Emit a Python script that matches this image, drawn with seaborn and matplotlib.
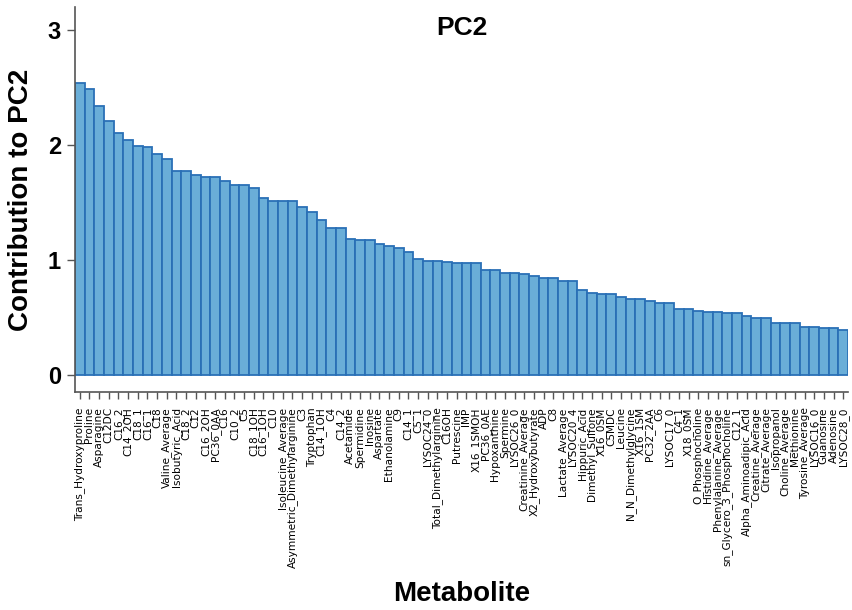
import matplotlib
matplotlib.use("Agg")
import matplotlib.pyplot as plt
import seaborn as sns
import pandas as pd

metabolites = [
    "Trans_Hydroxyproline", "Proline", "Asparagine", "C12DC", "C16_2", "C14_2OH",
    "C18_1", "C16_1", "C18", "Valine_Average", "Isobutyric_Acid", "C18_2", "C12",
    "C16_2OH", "PC36_0AA", "C16", "C10_2", "C5", "C18_1OH", "C16_1OH", "C10",
    "Isoleucine_Average", "Asymmetric_Dimethylarginine", "C3", "Tryptophan",
    "C14_1OH", "C4", "C14_2", "Acetamide", "Spermidine", "Inosine", "Aspartate",
    "Ethanolamine", "C9", "C14_1", "C5_1", "LYSOC24_0", "Total_Dimethylarginine",
    "C16OH", "Putrescine", "IMP", "X16_1SMOH", "PC36_0AE", "Hypoxanthine",
    "Spermine", "LYSOC26_0", "Creatinine_Average", "X2_Hydroxybutyrate", "ADP",
    "C8", "Lactate_Average", "LYSOC20_4", "Hippuric_Acid", "Dimethyl_Sulfone",
    "X16_0SM", "C5MDC", "Leucine", "N_N_Dimethylglycine", "X16_1SM", "PC32_2AA",
    "C6", "LYSOC17_0", "C4_1", "X18_0SM", "O_Phosphocholine", "Histidine_Average",
    "Phenylalanine_Average", "sn_Glycero_3_Phosphocholine", "C12_1",
    "Alpha_Aminoadipic_Acid", "Creatine_Average", "Citrate_Average", "Isopropanol",
    "Choline_Average", "Methionine", "Tyrosine_Average", "LYSOC16_0", "Guanosine",
    "Adenosine", "LYSOC28_0",
]

contribution = [
    2.54, 2.49, 2.34, 2.21, 2.10, 2.04, 1.99, 1.98, 1.92, 1.88,
    1.77, 1.77, 1.74, 1.72, 1.72, 1.69, 1.655, 1.65, 1.63, 1.54,
    1.515, 1.515, 1.51, 1.46, 1.415, 1.35, 1.28, 1.28, 1.185, 1.17,
    1.17, 1.135, 1.125, 1.105, 1.07, 1.005, 0.995, 0.995, 0.985, 0.97,
    0.97, 0.97, 0.91, 0.91, 0.89, 0.89, 0.875, 0.865, 0.845, 0.845,
    0.815, 0.815, 0.74, 0.715, 0.705, 0.705, 0.68, 0.665, 0.665, 0.645,
    0.625, 0.625, 0.575, 0.575, 0.56, 0.545, 0.545, 0.535, 0.535, 0.515,
    0.495, 0.495, 0.45, 0.45, 0.45, 0.415, 0.415, 0.405, 0.405, 0.395,
]

yticks = [0, 1, 2, 3]

df = pd.DataFrame({"Metabolite": metabolites, "Contribution": contribution})

sns.set_style("white")
plt.rcParams["font.family"] = ["Liberation Sans", "DejaVu Sans"]
plt.rcParams["text.color"] = "black"
plt.rcParams["axes.labelcolor"] = "black"
plt.rcParams["xtick.labelcolor"] = "black"
plt.rcParams["ytick.labelcolor"] = "black"

fig = plt.figure(figsize=(8.53, 6.10), dpi=100)
ax = fig.add_axes([75 / 853, 1 - 392 / 610, (848 - 75) / 853, (392 - 7) / 610])

sns.barplot(data=df, x="Metabolite", y="Contribution", order=metabolites,
            color="#6aaed8", saturation=1, width=1.0, edgecolor="#2a70b6",
            linewidth=1.3, ax=ax)

ax.set_xlim(-0.5, len(metabolites) - 0.5)
ax.set_ylim(-0.148, 3.2)
ax.set_yticks(yticks)
ax.set_yticklabels([str(t) for t in yticks], fontsize=17, fontweight="bold",
                   color="black")
ax.set_xticks(range(len(metabolites)))
ax.set_xticklabels(metabolites, rotation=90, fontsize=7.6,
                   family=["DejaVu Sans"], color="black")

for s in ["top", "right"]:
    ax.spines[s].set_visible(False)
for s in ["left", "bottom"]:
    ax.spines[s].set_color("#555555")
    ax.spines[s].set_linewidth(1.2)

ax.tick_params(axis="y", which="both", left=True, length=6, width=1.0,
               color="#555555", pad=4)
ax.tick_params(axis="x", which="both", bottom=True, length=5, width=1.0,
               color="#555555", pad=6)

ax.set_ylabel("Contribution to PC2", fontsize=20, fontweight="bold", labelpad=10,
              color="black")
ax.set_xlabel("")
fig.text(0.5 * (75 + 848) / 853, 1 - 594 / 610, "Metabolite", ha="center",
         va="center", fontsize=20, fontweight="bold", color="black")
ax.text(0.5, 0.945, "PC2", transform=ax.transAxes, ha="center", va="center",
        fontsize=19, fontweight="bold", color="black")

fig.savefig("out.png", dpi=100)
